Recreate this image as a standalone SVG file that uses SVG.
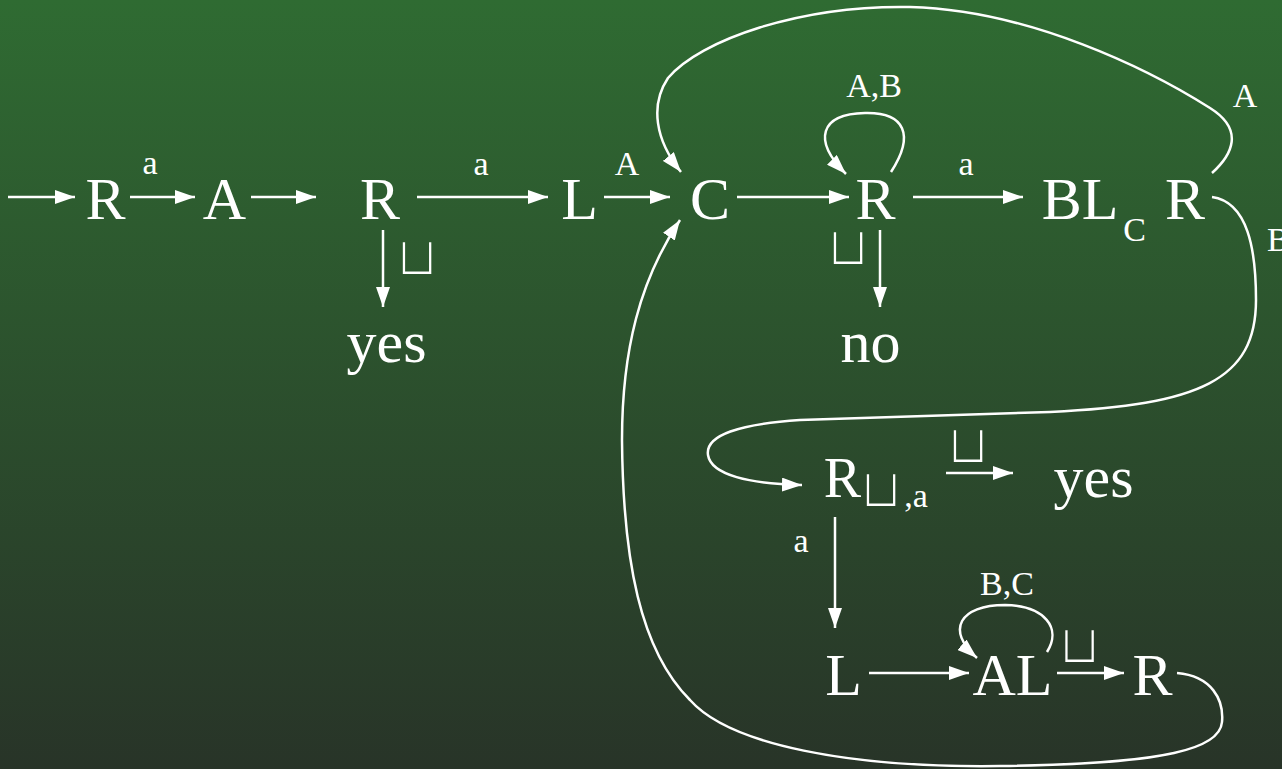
<svg xmlns="http://www.w3.org/2000/svg" width="1282" height="769" viewBox="0 0 1282 769">
<defs>
<linearGradient id="bg" x1="0" y1="0" x2="0" y2="1">
<stop offset="0" stop-color="#2f6b32"/>
<stop offset="1" stop-color="#283428"/>
</linearGradient>
<linearGradient id="bgu" gradientUnits="userSpaceOnUse" x1="0" y1="0" x2="0" y2="769">
<stop offset="0" stop-color="#2f6b32"/>
<stop offset="1" stop-color="#283428"/>
</linearGradient>
<marker id="ah" viewBox="0 0 20 14" refX="20" refY="7" markerWidth="20" markerHeight="14" markerUnits="userSpaceOnUse" orient="auto">
<path d="M0,0 L20,7 L0,14 Z" fill="#ffffff"/>
</marker>
<style>
.n{font-family:"Liberation Serif","Times New Roman",serif;font-size:60px;fill:#fff;text-anchor:middle}
.l{font-family:"Liberation Serif","Times New Roman",serif;font-size:34px;fill:#fff;text-anchor:middle}
.sp{font-family:"DejaVu Sans",sans-serif;font-size:54px;fill:#fff;text-anchor:middle;stroke:url(#bgu);stroke-width:2.2px}
.e{fill:none;stroke:#fff;stroke-width:2.5}
.a{marker-end:url(#ah)}
</style>
</defs>
<rect width="1282" height="769" fill="url(#bg)"/>
<g id="connectors">
<line class="e a" x1="8" y1="197" x2="75" y2="197"/>
<line class="e a" x1="130" y1="197" x2="195" y2="197"/>
<line class="e a" x1="251" y1="197" x2="316" y2="197"/>
<line class="e a" x1="417" y1="197" x2="548" y2="197"/>
<line class="e a" x1="604" y1="197" x2="670" y2="197"/>
<line class="e a" x1="737" y1="197" x2="849" y2="197"/>
<line class="e a" x1="913" y1="197" x2="1023" y2="197"/>
<line class="e a" x1="383" y1="230" x2="383" y2="307"/>
<line class="e a" x1="880" y1="230" x2="880" y2="307"/>
<line class="e a" x1="946" y1="473" x2="1013" y2="473"/>
<line class="e a" x1="835" y1="517" x2="835" y2="628"/>
<line class="e a" x1="869" y1="673" x2="969" y2="673"/>
<line class="e a" x1="1057" y1="673" x2="1124" y2="673"/>
<path class="e a" d="M891,172 C915,135 905,112 865,113 C820,114 812,140 846,174"/>
<path class="e a" d="M1047,652 C1062,628 1045,606 1005,605 C960,605 945,630 977,658"/>
<path class="e a" d="M1212,173 C1232,155 1245,130 1210,108 C1150,70 1030,10 910,7 C800,5 700,40 668,78 C650,105 655,140 681,172"/>
<path class="e a" d="M1212,197 C1248,202 1256,250 1256,300 C1256,380 1200,405 1050,412 L800,420 C740,424 705,435 708,455 C711,475 750,484 802,485"/>
<path class="e a" d="M1177,673 C1212,676 1224,700 1222,722 C1220,748 1170,764 1000,766 C850,768 730,745 690,700 C640,650 623,560 622,440 C622,350 640,280 680,220"/>
</g>
<g id="labels">
<text class="l" x="150" y="174">a</text>
<text class="l" x="481" y="175">a</text>
<text class="l" x="627" y="175">A</text>
<text class="l" x="874" y="97">A,B</text>
<text class="l" x="966" y="175">a</text>
<text class="l" x="1245" y="107">A</text>
<text class="l" x="1267" y="251" style="text-anchor:start">B</text>
<text class="l" x="801" y="552">a</text>
<text class="l" x="1007" y="595">B,C</text>
<text class="sp" x="417" y="275">⊔</text>
<text class="sp" x="848" y="265">⊔</text>
<text class="sp" x="968" y="463">⊔</text>
<text class="sp" x="1079.5" y="663">⊔</text>
</g>
<g id="n-R1"><text class="n" x="105.5" y="219">R</text></g>
<g id="n-A1"><text class="n" x="224.5" y="219">A</text></g>
<g id="n-R2"><text class="n" x="380" y="219">R</text></g>
<g id="n-yes1"><text class="n" x="386.5" y="362">yes</text></g>
<g id="n-L1"><text class="n" x="579.5" y="219">L</text></g>
<g id="n-C"><text class="n" x="710" y="219">C</text></g>
<g id="n-R3"><text class="n" x="875.5" y="219">R</text></g>
<g id="n-no"><text class="n" x="870.5" y="362">no</text></g>
<g id="n-BLC"><text class="n" x="1080" y="219">BL</text><text class="l" x="1134.5" y="241">C</text></g>
<g id="n-R4"><text class="n" x="1185" y="219">R</text></g>
<g id="n-Rsa"><text class="n" x="842.5" y="497" style="font-size:56px">R</text><text class="sp" x="881" y="507">⊔</text><text class="l" x="916" y="507">,a</text></g>
<g id="n-yes2"><text class="n" x="1093.5" y="497">yes</text></g>
<g id="n-L2"><text class="n" x="843.5" y="695">L</text></g>
<g id="n-AL"><text class="n" x="1012.5" y="695">AL</text></g>
<g id="n-R5"><text class="n" x="1152.5" y="695">R</text></g>
</svg>
